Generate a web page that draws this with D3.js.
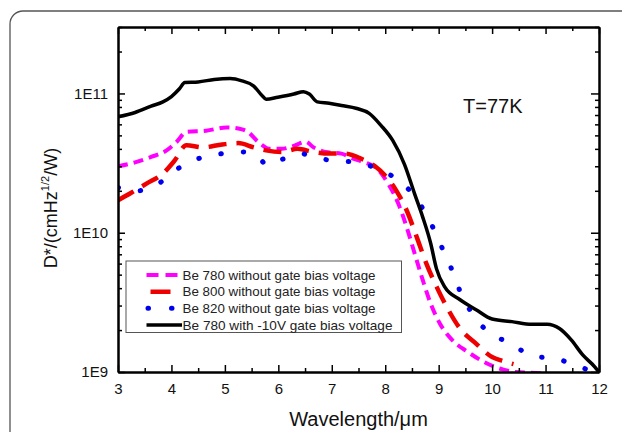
<!DOCTYPE html>
<html><head><meta charset="utf-8">
<script src="https://cdn.jsdelivr.net/npm/d3@7"></script>
<style>
html,body{margin:0;padding:0;background:#fff;}
svg{display:block;font-family:"Liberation Sans",Arial,sans-serif;}
</style></head>
<body>
<svg id="c" width="622" height="432"></svg>
<script>
// ---- data ----
const xTicks = [3,4,5,6,7,8,9,10,11,12];
const yTickLabels = ["1E9","1E10","1E11"];
const yTicks = [1e9,1e10,1e11];
const legendLabels = ["Be 780 without gate bias voltage","Be 800 without gate bias voltage","Be 820 without gate bias voltage","Be 780 with -10V gate bias voltage"];

const magX = [3.0,3.32,3.62,3.91,4.10,4.28,4.65,5.03,5.25,5.43,5.62,5.84,6.06,6.29,6.51,6.66,6.88,7.18,7.40,7.62,7.84,8.07,8.25,8.40,8.55,8.70,8.85,9.03,9.25,9.55,9.85,10.14,10.44,10.9,11.0];
const magY = [3.0e10,3.2e10,3.5e10,3.9e10,4.5e10,5.3e10,5.4e10,5.7e10,5.6e10,5.3e10,4.5e10,4.0e10,4.0e10,4.2e10,4.5e10,4.1e10,3.8e10,3.7e10,3.4e10,3.2e10,2.9e10,2.2e10,1.6e10,1.1e10,7.1e9,4.6e9,3.1e9,2.2e9,1.7e9,1.39e9,1.18e9,1.06e9,1.0e9,0.98e9,0.97e9];

const redX = [3.0,3.24,3.54,3.84,4.06,4.28,4.58,4.95,5.25,5.54,5.77,6.06,6.36,6.66,6.95,7.25,7.55,7.81,8.03,8.21,8.40,8.59,8.77,8.96,9.18,9.40,9.70,10.0,10.2,10.4];
const redY = [1.71e10,1.93e10,2.26e10,2.66e10,3.3e10,4.25e10,4.1e10,4.3e10,4.4e10,4.1e10,3.9e10,3.8e10,4.0e10,3.8e10,3.7e10,3.7e10,3.4e10,3.0e10,2.5e10,2.0e10,1.45e10,9.3e9,6.0e9,4.1e9,2.8e9,2.05e9,1.6e9,1.28e9,1.2e9,1.14e9];

const bluX = [3.0,3.36,3.76,4.13,4.5,4.95,5.36,5.62,5.80,5.99,6.25,6.43,6.66,7.03,7.47,7.92,8.36,8.62,8.85,9.05,9.24,9.40,9.62,9.96,10.37,10.74,11.18,11.63,11.92];
const bluY = [2.11e10,2.0e10,2.26e10,2.9e10,3.4e10,3.7e10,3.8e10,3.5e10,3.05e10,3.3e10,3.5e10,3.7e10,3.47e10,3.3e10,3.2e10,2.8e10,2.2e10,1.67e10,1.18e10,8.0e9,5.5e9,3.8e9,2.65e9,1.9e9,1.6e9,1.3e9,1.25e9,1.09e9,1.0e9];

const blkX = [3.0,3.32,3.62,3.84,4.0,4.15,4.25,4.5,4.8,5.1,5.32,5.54,5.69,5.77,5.99,6.29,6.47,6.58,6.73,6.95,7.18,7.47,7.70,7.92,8.14,8.36,8.55,8.70,8.85,8.96,9.11,9.40,9.70,10.0,10.37,10.74,11.03,11.26,11.48,11.70,11.92,12.0];
const blkY = [6.8e10,7.3e10,8.1e10,8.7e10,9.5e10,1.08e11,1.2e11,1.21e11,1.26e11,1.28e11,1.23e11,1.13e11,9.7e10,9.1e10,9.4e10,9.9e10,1.03e11,9.9e10,8.7e10,8.5e10,8.2e10,7.8e10,7.2e10,5.9e10,4.6e10,3.1e10,1.9e10,1.3e10,8.4e9,5.5e9,4.1e9,3.3e9,2.8e9,2.4e9,2.3e9,2.2e9,2.2e9,2.05e9,1.7e9,1.32e9,1.09e9,1.0e9];

// ---- layout ----
const svg = d3.select("#c");
const L=118, R=599, T=27, B=372;
const x = d3.scaleLinear().domain([3,12]).range([L,R]);
const y = d3.scaleLog().domain([1e9,3e11]).range([B,T]);

// outer frame
svg.append("rect").attr("x",10).attr("y",11).attr("width",660).attr("height",480)
  .attr("rx",13).attr("fill","none").attr("stroke","#555").attr("stroke-width",1.3);

const defs = svg.append("defs");
defs.append("clipPath").attr("id","clip").append("rect").attr("x",L).attr("y",T).attr("width",R-L).attr("height",B-T);

const styles = [
  {X:magX,Y:magY,color:"#ff00ff",w:4,dash:"10,6",cap:"butt"},
  {X:redX,Y:redY,color:"#ee0000",w:4.5,dash:"18,10",cap:"butt"},
  {X:bluX,Y:bluY,color:"#0000ee",w:5,dash:"0.5,22",cap:"round"},
  {X:blkX,Y:blkY,color:"#000",w:3.5,dash:null,cap:"butt"}
];

const line = d3.line().x(d=>x(d[0])).y(d=>y(d[1])).curve(d3.curveMonotoneX);
const g = svg.append("g").attr("clip-path","url(#clip)");
styles.forEach(s=>{
  const pts = s.X.map((v,i)=>[v,s.Y[i]]);
  g.append("path").datum(pts).attr("d",line).attr("fill","none")
   .attr("stroke",s.color).attr("stroke-width",s.w)
   .attr("stroke-dasharray",s.dash).attr("stroke-linecap",s.cap).attr("stroke-linejoin","round");
});

// axes
const minorX = d3.range(3.5,12,1);
const minorY = [];
[1e9,1e10,1e11].forEach(dec=>{for(let k=2;k<=9;k++){const v=k*dec; if(v<=3e11) minorY.push(v);}});
const fmtY = d => yTickLabels[yTicks.indexOf(d)];

function styleAxis(sel){
  sel.selectAll("path.domain").attr("stroke","#000").attr("stroke-width",2);
  sel.selectAll(".tick line").attr("stroke","#000").attr("stroke-width",1.5);
  sel.selectAll("text").attr("fill","#111").attr("font-family","'Liberation Sans',Arial,sans-serif");
}

const bx = svg.append("g").attr("transform",`translate(0,${B})`)
  .call(d3.axisBottom(x).tickValues(xTicks).tickSize(-7).tickSizeOuter(0).tickPadding(11).tickFormat(d3.format("d")));
bx.selectAll("text").attr("font-size",15);
styleAxis(bx);
const bxm = svg.append("g").attr("transform",`translate(0,${B})`)
  .call(d3.axisBottom(x).tickValues(minorX).tickSize(-4).tickSizeOuter(0).tickFormat(""));
styleAxis(bxm);
const tx = svg.append("g").attr("transform",`translate(0,${T})`)
  .call(d3.axisTop(x).tickValues(xTicks).tickSize(-7).tickSizeOuter(0).tickFormat(""));
styleAxis(tx);
const txm = svg.append("g").attr("transform",`translate(0,${T})`)
  .call(d3.axisTop(x).tickValues(minorX).tickSize(-4).tickSizeOuter(0).tickFormat(""));
styleAxis(txm);

const ly = svg.append("g").attr("transform",`translate(${L},0)`)
  .call(d3.axisLeft(y).tickValues(yTicks).tickSize(-7).tickSizeOuter(0).tickPadding(10).tickFormat(fmtY));
ly.selectAll("text").attr("font-size",15);
styleAxis(ly);
const lym = svg.append("g").attr("transform",`translate(${L},0)`)
  .call(d3.axisLeft(y).tickValues(minorY).tickSize(-4).tickSizeOuter(0).tickFormat(""));
styleAxis(lym);
const ry = svg.append("g").attr("transform",`translate(${R},0)`)
  .call(d3.axisRight(y).tickValues(yTicks).tickSize(-8).tickSizeOuter(0).tickFormat(""));
styleAxis(ry);
const rym = svg.append("g").attr("transform",`translate(${R},0)`)
  .call(d3.axisRight(y).tickValues(minorY).tickSize(-4).tickSizeOuter(0).tickFormat(""));
styleAxis(rym);

// titles
svg.append("text").attr("x",(L+R)/2).attr("y",426).attr("text-anchor","middle")
  .attr("font-size",20).attr("fill","#111").text("Wavelength/\u03bcm");
const yl = svg.append("text").attr("transform","translate(57,208) rotate(-90)")
  .attr("text-anchor","middle").attr("font-size",18).attr("fill","#111");
yl.append("tspan").text("D*/(cmHz");
yl.append("tspan").attr("font-size",11).attr("dy",-8).text("1/2");
yl.append("tspan").attr("dy",8).text("/W)");

svg.append("text").attr("x",463).attr("y",113).attr("font-size",20).attr("fill","#111").text("T=77K");

// legend
const lg = svg.append("g");
lg.append("rect").attr("x",126).attr("y",261).attr("width",275.5).attr("height",71.5)
  .attr("fill","#fff").attr("stroke","#555").attr("stroke-width",1);
const legY = [275,291.7,308.3,325];
const sampleStart=[146.5,146.5,148,146.5], sampleEnd=[181,181,181,182];
styles.forEach((s,i)=>{
  lg.append("line").attr("x1",sampleStart[i]).attr("x2",sampleEnd[i]).attr("y1",legY[i]).attr("y2",legY[i])
    .attr("stroke",s.color).attr("stroke-width",s.w)
    .attr("stroke-dasharray", i===0?"12,7": i===1?"0,4,20,30": i===2?"0.5,23":null)
    .attr("stroke-linecap",s.cap);
  lg.append("text").attr("x",182.5).attr("y",legY[i]+4.5).attr("font-size",13).attr("fill","#222")
    .attr("textLength", i===3?210:193).attr("lengthAdjust","spacingAndGlyphs")
    .text(legendLabels[i]);
});
</script>
</body></html>
